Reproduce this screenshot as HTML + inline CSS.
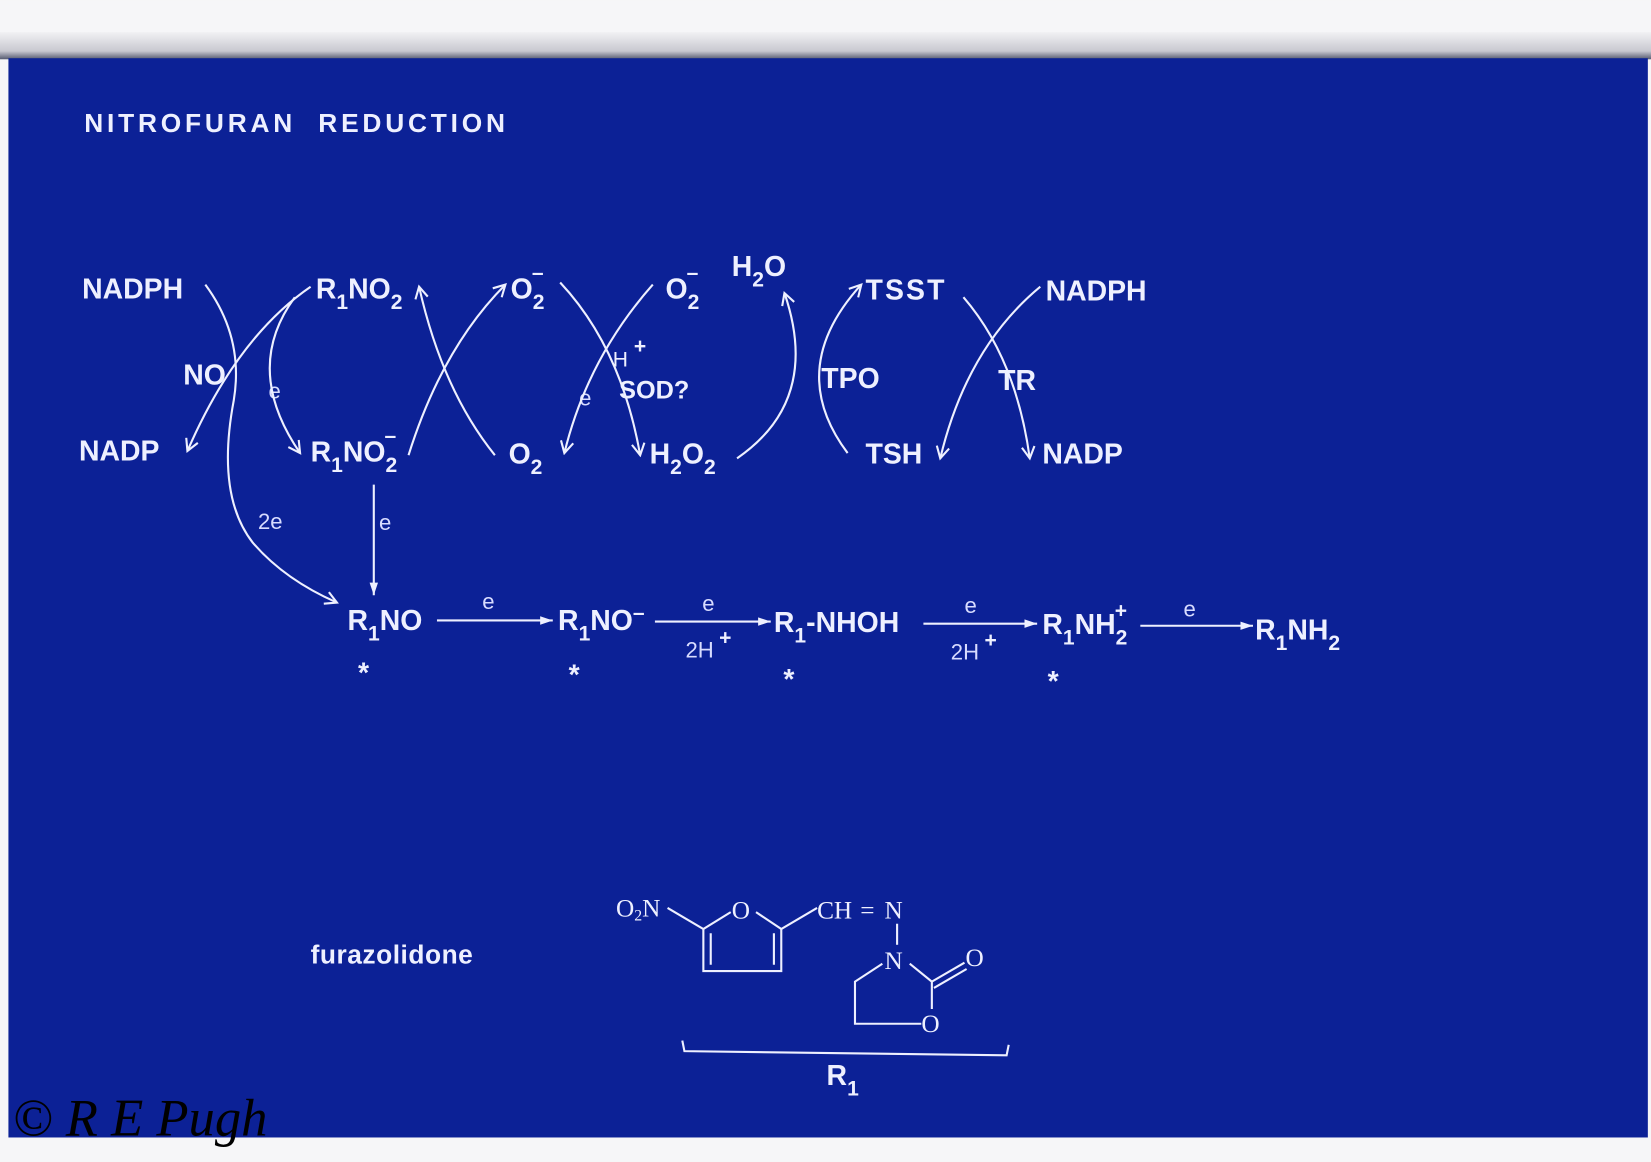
<!DOCTYPE html>
<html><head><meta charset="utf-8"><style>
html,body{margin:0;padding:0;background:#f4f4f6;}
svg{display:block;}
text{font-family:"Liberation Sans",sans-serif;fill:#eef0ff;}
.m{font-size:27px;font-weight:bold;}
.s{font-size:20px;font-weight:bold;}
.l{font-size:21px;fill:#d8dcff;}
.c{font-family:"Liberation Serif",serif;font-size:24px;}
</style></head><body>
<svg width="1651" height="1162" viewBox="0 0 1568 1103" xmlns="http://www.w3.org/2000/svg">
<defs>
<linearGradient id="sh" x1="0" y1="0" x2="0" y2="1"><stop offset="0" stop-color="#f2f2f4"/><stop offset="0.7" stop-color="#c8c8d0"/><stop offset="1" stop-color="#555a70"/></linearGradient>
<marker id="a" markerWidth="14" markerHeight="14" refX="12" refY="7" orient="auto" markerUnits="userSpaceOnUse"><path d="M1,1 L12,7 L1,13" fill="none" stroke="#eef0ff" stroke-width="2"/></marker>
<marker id="f" markerWidth="14" markerHeight="10" refX="12" refY="5" orient="auto" markerUnits="userSpaceOnUse"><path d="M0,1 L12,5 L0,9 z" fill="#eef0ff"/></marker>
</defs>
<rect x="0" y="0" width="1568" height="1103" fill="#f6f6f8"/>
<rect x="0" y="30" width="1568" height="26" fill="url(#sh)"/>
<rect x="8" y="55" width="1557" height="1025" fill="#0c2196"/>

<text x="80" y="125" class="m" style="font-size:25px;letter-spacing:3.6px">NITROFURAN&#160; REDUCTION</text>

<!-- top row -->
<text x="78" y="283" class="m">NADPH</text>
<text x="300" y="283" class="m">R<tspan class="s" dy="10">1</tspan><tspan dy="-10">NO</tspan><tspan class="s" dy="10">2</tspan></text>
<text x="485" y="283" class="m">O<tspan class="s" dy="10">2</tspan><tspan class="s" dx="-12" dy="-28">–</tspan></text>
<text x="632" y="283" class="m">O<tspan class="s" dy="10">2</tspan><tspan class="s" dx="-12" dy="-28">–</tspan></text>
<text x="695" y="262" class="m">H<tspan class="s" dy="10">2</tspan><tspan dy="-10">O</tspan></text>
<text x="822" y="284" class="m" style="letter-spacing:2px">TSST</text>
<text x="993" y="285" class="m">NADPH</text>

<!-- middle labels -->
<text x="174" y="365" class="m">NO</text>
<text x="255" y="378" class="l">e</text>
<text x="582" y="348" class="s" style="font-weight:normal">H</text><text x="602" y="335" class="s">+</text>
<text x="588" y="378" class="m" style="font-size:24px">SOD?</text>
<text x="550" y="385" class="l">e</text>
<text x="780" y="368" class="m">TPO</text>
<text x="948" y="370" class="m">TR</text>

<!-- bottom row -->
<text x="75" y="437" class="m">NADP</text>
<text x="295" y="438" class="m">R<tspan class="s" dy="10">1</tspan><tspan dy="-10">NO</tspan><tspan class="s" dy="10">2</tspan><tspan class="s" dx="-12" dy="-28">–</tspan></text>
<text x="483" y="440" class="m">O<tspan class="s" dy="10">2</tspan></text>
<text x="617" y="440" class="m">H<tspan class="s" dy="10">2</tspan><tspan dy="-10">O</tspan><tspan class="s" dy="10">2</tspan></text>
<text x="822" y="440" class="m">TSH</text>
<text x="990" y="440" class="m">NADP</text>

<text x="245" y="502" class="l">2e</text>
<text x="360" y="503" class="l">e</text>

<g fill="none" stroke="#eef0ff" stroke-width="2">
<path d="M295,272 Q225,320 178,428" marker-end="url(#a)"/>
<path d="M195,270 Q232,320 222,380 Q205,470 240,515 Q270,550 320,572" marker-end="url(#a)"/>
<path d="M280,282 Q230,350 285,430" marker-end="url(#a)"/>
<path d="M388,432 Q420,330 480,270" marker-end="url(#a)"/>
<path d="M470,432 Q420,370 398,272" marker-end="url(#a)"/>
<path d="M532,268 Q590,330 608,432" marker-end="url(#a)"/>
<path d="M620,270 Q558,340 536,430" marker-end="url(#a)"/>
<path d="M700,435 Q780,380 745,278" marker-end="url(#a)"/>
<path d="M805,430 Q745,350 818,270" marker-end="url(#a)"/>
<path d="M915,282 Q965,340 978,435" marker-end="url(#a)"/>
<path d="M988,272 Q918,330 893,435" marker-end="url(#a)"/>
<path d="M355,460 L355,565" marker-end="url(#f)"/>
<path d="M415,589 L525,589" marker-end="url(#f)"/>
<path d="M622,590 L732,590" marker-end="url(#f)"/>
<path d="M877,592 L985,592" marker-end="url(#f)"/>
<path d="M1083,594 L1190,594" marker-end="url(#f)"/>
</g>

<!-- main row -->
<text x="330" y="598" class="m">R<tspan class="s" dy="10">1</tspan><tspan dy="-10">NO</tspan></text>
<text x="458" y="578" class="l">e</text>
<text x="530" y="598" class="m">R<tspan class="s" dy="10">1</tspan><tspan dy="-10">NO</tspan><tspan class="s" dy="-10">–</tspan></text>
<text x="667" y="580" class="l">e</text>
<text x="651" y="624" class="l">2H</text><text x="683" y="612" class="s">+</text>
<text x="735" y="600" class="m">R<tspan class="s" dy="10">1</tspan><tspan dy="-10">-NHOH</tspan></text>
<text x="916" y="582" class="l">e</text>
<text x="903" y="626" class="l">2H</text><text x="935" y="614" class="s">+</text>
<text x="990" y="602" class="m">R<tspan class="s" dy="10">1</tspan><tspan dy="-10">NH</tspan><tspan class="s" dy="10">2</tspan><tspan class="s" dx="-12" dy="-26">+</tspan></text>
<text x="1124" y="585" class="l">e</text>
<text x="1192" y="607" class="m">R<tspan class="s" dy="10">1</tspan><tspan dy="-10">NH</tspan><tspan class="s" dy="10">2</tspan></text>
<text x="340" y="648" class="m">*</text>
<text x="540" y="650" class="m">*</text>
<text x="744" y="654" class="m">*</text>
<text x="995" y="656" class="m">*</text>

<!-- furazolidone -->
<text x="295" y="915" class="m" style="font-size:25px;letter-spacing:0.5px">furazolidone</text>
<text x="585" y="870" class="c">O<tspan font-size="15" dy="4">2</tspan><tspan dy="-4">N</tspan></text>
<text x="695" y="872" class="c">O</text>
<text x="776" y="872" class="c">CH</text>
<text x="817" y="872" class="c">=</text>
<text x="840" y="872" class="c">N</text>
<text x="840" y="920" class="c">N</text>
<text x="917" y="917" class="c">O</text>
<text x="875" y="980" class="c">O</text>
<g fill="none" stroke="#eef0ff" stroke-width="2">
<path d="M634,862 L668,882 L694,866"/>
<path d="M718,866 L742,882 L776,862"/>
<path d="M668,882 L668,922 L742,922 L742,882"/>
<path d="M675,886 L675,916 M735,886 L735,916"/>
<path d="M852,877 L852,897"/>
<path d="M838,915 L812,932 L812,972 L875,972"/>
<path d="M864,915 L885,932 L885,958"/>
<path d="M885,932 L916,914 M887,938 L918,920"/>
<path d="M648,988 L650,998 L956,1002 L958,992"/>
</g>
<text x="785" y="1030" class="m">R<tspan class="s" dy="10">1</tspan></text>

<text x="12" y="1078" style="font-family:'Liberation Serif',serif;font-style:italic;font-size:50px;fill:#000">© R E Pugh</text>
</svg>
</body></html>
